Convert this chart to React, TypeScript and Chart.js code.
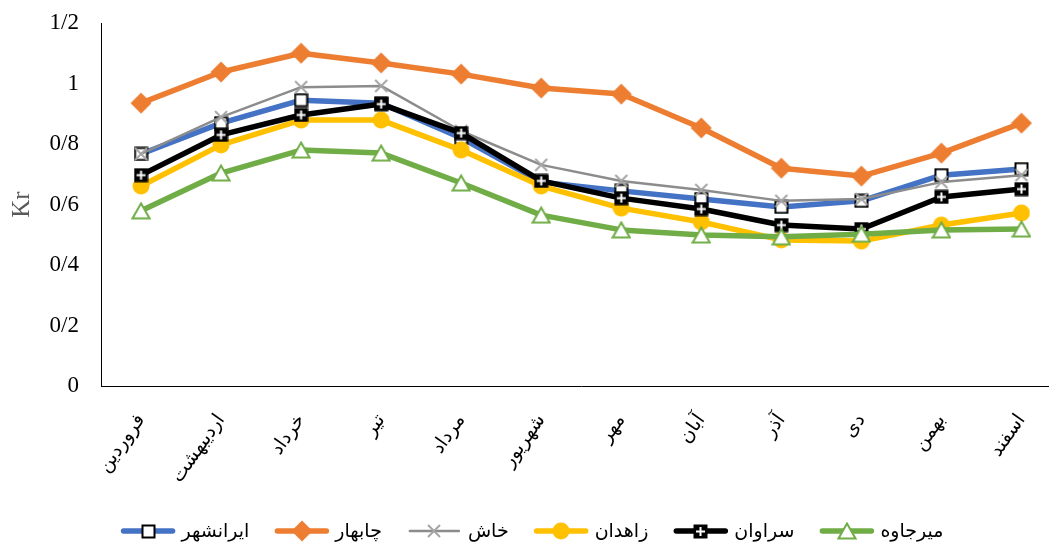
import React, { useEffect, useRef } from 'react';
import { Chart, registerables } from 'chart.js';

Chart.register(...registerables);

const months = ['فروردین', 'اردیبهشت', 'خرداد', 'تیر', 'مرداد', 'شهریور', 'مهر', 'آبان', 'آذر', 'دی', 'بهمن', 'اسفند'];
const seriesNames = ['ایرانشهر', 'چابهار', 'خاش', 'زاهدان', 'سراوان', 'میرجاوه'];

const iranshahr = [0.767, 0.869, 0.945, 0.935, 0.82, 0.674, 0.645, 0.618, 0.592, 0.612, 0.697, 0.717];
const chabahar = [0.935, 1.038, 1.1, 1.068, 1.031, 0.985, 0.965, 0.853, 0.72, 0.694, 0.77, 0.869];
const khash = [0.767, 0.889, 0.988, 0.992, 0.843, 0.731, 0.678, 0.648, 0.612, 0.618, 0.674, 0.697];
const zahedan = [0.661, 0.797, 0.879, 0.879, 0.78, 0.661, 0.588, 0.542, 0.483, 0.479, 0.532, 0.572];
const saravan = [0.697, 0.83, 0.896, 0.932, 0.836, 0.678, 0.621, 0.585, 0.532, 0.519, 0.625, 0.651];
const mirjaveh = [0.579, 0.704, 0.78, 0.77, 0.671, 0.565, 0.516, 0.499, 0.493, 0.502, 0.516, 0.519];

const yTicks = [0, 0.2, 0.4, 0.6, 0.8, 1, 1.2];

const SERIF = "'Times New Roman', 'Liberation Serif', 'DejaVu Sans', serif";

type MarkerKind = 'square' | 'diamond' | 'x' | 'circle' | 'plus' | 'triangle';

function makeMarker(kind: MarkerKind): HTMLCanvasElement {
  const c = document.createElement('canvas');
  const ctx = c.getContext('2d')!;
  switch (kind) {
    case 'square': {
      c.width = 15; c.height = 15;
      ctx.fillStyle = '#ffffff';
      ctx.strokeStyle = '#000000';
      ctx.lineWidth = 2;
      ctx.fillRect(1.5, 1.5, 12, 12);
      ctx.strokeRect(1.5, 1.5, 12, 12);
      break;
    }
    case 'diamond': {
      c.width = 22; c.height = 22;
      ctx.fillStyle = '#ED7D31';
      ctx.beginPath();
      ctx.moveTo(11, 0.5); ctx.lineTo(21.5, 11); ctx.lineTo(11, 21.5); ctx.lineTo(0.5, 11);
      ctx.closePath();
      ctx.fill();
      break;
    }
    case 'x': {
      c.width = 16; c.height = 16;
      ctx.strokeStyle = '#A5A5A5';
      ctx.lineWidth = 2;
      ctx.beginPath();
      ctx.moveTo(2, 2); ctx.lineTo(14, 14);
      ctx.moveTo(14, 2); ctx.lineTo(2, 14);
      ctx.stroke();
      break;
    }
    case 'circle': {
      c.width = 18; c.height = 18;
      ctx.fillStyle = '#FFC000';
      ctx.beginPath();
      ctx.arc(9, 9, 8.5, 0, Math.PI * 2);
      ctx.fill();
      break;
    }
    case 'plus': {
      c.width = 15; c.height = 15;
      ctx.fillStyle = '#000000';
      ctx.fillRect(0.5, 0.5, 14, 14);
      ctx.strokeStyle = '#ffffff';
      ctx.lineWidth = 2;
      ctx.beginPath();
      ctx.moveTo(3, 7.5); ctx.lineTo(12, 7.5);
      ctx.moveTo(7.5, 3); ctx.lineTo(7.5, 12);
      ctx.stroke();
      break;
    }
    case 'triangle': {
      c.width = 20; c.height = 18;
      ctx.fillStyle = '#ffffff';
      ctx.strokeStyle = '#70AD47';
      ctx.lineWidth = 2;
      ctx.lineJoin = 'miter';
      ctx.beginPath();
      ctx.moveTo(10, 1.5); ctx.lineTo(18.5, 16.5); ctx.lineTo(1.5, 16.5);
      ctx.closePath();
      ctx.fill();
      ctx.stroke();
      break;
    }
  }
  return c;
}

const LEGEND_CX = 532;
const LEGEND_Y = 531;

const legendPlugin = {
  id: 'lineMarkerLegend',
  afterDraw(chart: any) {
    const ctx: CanvasRenderingContext2D = chart.ctx;
    const datasets = chart.data.datasets;
    ctx.save();
    ctx.font = `19px ${SERIF}`;
    const lineLen = 55;
    const gap = 6;
    const spacing = 25;
    const items = datasets.map((ds: any) => ({ ds, w: lineLen + gap + ctx.measureText(ds.label).width }));
    const total = items.reduce((a: number, it: any) => a + it.w, 0) + spacing * (items.length - 1);
    let x = LEGEND_CX - total / 2;
    items.forEach((it: any) => {
      const ds = it.ds;
      ctx.strokeStyle = ds.borderColor;
      ctx.lineWidth = ds.borderWidth;
      ctx.lineCap = 'round';
      ctx.beginPath();
      ctx.moveTo(x + 3, LEGEND_Y);
      ctx.lineTo(x + lineLen - 3, LEGEND_Y);
      ctx.stroke();
      const img: HTMLCanvasElement = ds.pointStyle;
      ctx.drawImage(img, Math.round(x + lineLen / 2 - img.width / 2), Math.round(LEGEND_Y - img.height / 2));
      ctx.fillStyle = '#000000';
      ctx.textAlign = 'left';
      ctx.textBaseline = 'middle';
      ctx.fillText(ds.label, x + lineLen + gap, LEGEND_Y + 1);
      x += it.w + spacing;
    });
    ctx.restore();
  },
};

export default function App() {
  const ref = useRef<HTMLCanvasElement>(null);

  useEffect(() => {
    const seriesData = [iranshahr, chabahar, khash, zahedan, saravan, mirjaveh];
    const colors = ['#4472C4', '#ED7D31', '#8C8C8C', '#FFC000', '#000000', '#70AD47'];
    const widths = [5.5, 5.5, 2.5, 5.5, 5.5, 5.5];
    const kinds: MarkerKind[] = ['square', 'diamond', 'x', 'circle', 'plus', 'triangle'];

    const datasets = seriesData.map((d, i) => ({
      label: seriesNames[i],
      data: d,
      borderColor: colors[i],
      backgroundColor: colors[i],
      borderWidth: widths[i],
      borderJoinStyle: 'round' as const,
      borderCapStyle: 'round' as const,
      pointStyle: makeMarker(kinds[i]),
      pointRadius: 8,
      pointHoverRadius: 8,
      tension: 0,
      fill: false,
      order: 6 - i,
      clip: false as any,
    }));

    const chart = new Chart(ref.current!, {
      type: 'line',
      data: { labels: months, datasets },
      options: {
        animation: false,
        responsive: false,
        maintainAspectRatio: false,
        layout: { padding: { top: 23, left: 0, right: 0, bottom: 0 } },
        plugins: {
          legend: { display: false },
          tooltip: { enabled: false },
        },
        scales: {
          x: {
            type: 'category',
            offset: true,
            grid: { display: false, drawTicks: false },
            border: { display: true, color: '#000000', width: 1 },
            ticks: {
              autoSkip: false,
              minRotation: 55,
              maxRotation: 55,
              padding: 24,
              color: '#000000',
              font: { family: SERIF, size: 19 },
            },
            afterFit: (s: any) => { s.height = 161; s.paddingTop = 0; s.paddingBottom = 0; },
          },
          y: {
            type: 'linear',
            min: 0,
            max: 1.2,
            afterBuildTicks: (s: any) => { s.ticks = yTicks.map((v) => ({ value: v })); },
            grid: { display: false, drawTicks: false },
            border: { display: true, color: '#000000', width: 1 },
            ticks: {
              padding: 22,
              color: '#000000',
              font: { family: SERIF, size: 23 },
              callback: (v: any) => String(Number(Number(v).toFixed(1))).replace('.', '/'),
            },
            title: {
              display: true,
              text: 'Kr',
              color: '#595959',
              font: { family: SERIF, size: 25 },
              padding: { top: 7, bottom: 0 },
            },
            afterFit: (s: any) => { s.width = 101; s.paddingTop = 0; s.paddingBottom = 0; },
          },
        },
      },
      plugins: [legendPlugin],
    });
    return () => chart.destroy();
  }, []);

  return (
    <div style={{ position: 'absolute', left: 0, top: 0, width: 1049, height: 547, overflow: 'hidden', background: '#ffffff' }}>
      <canvas ref={ref} width={1075} height={547} style={{ width: 1075, height: 547, display: 'block' }} />
    </div>
  );
}
